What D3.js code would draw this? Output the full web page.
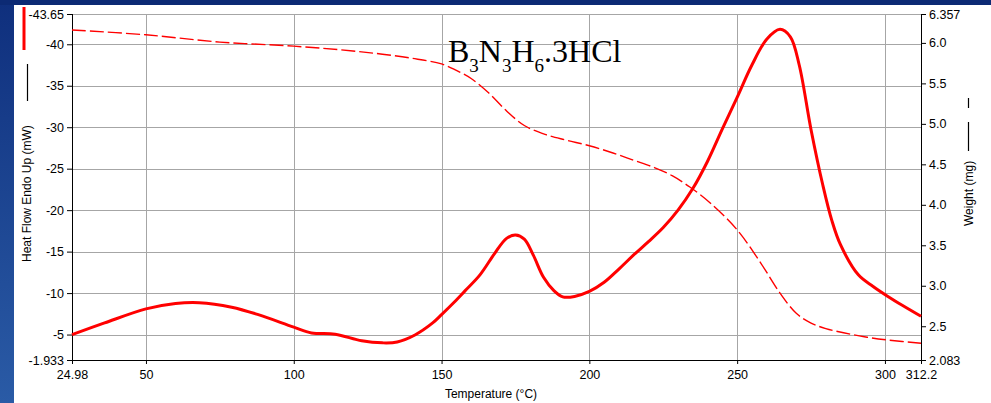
<!DOCTYPE html>
<html>
<head>
<meta charset="utf-8">
<script src="https://cdn.jsdelivr.net/npm/d3@7"></script>
<style>
  html, body { margin: 0; padding: 0; }
  body { width: 991px; height: 403px; overflow: hidden; }
  svg { display: block; font-family: 'Liberation Sans', Arial, sans-serif; }
</style>
</head>
<body>
<svg id="chart" width="991" height="403"></svg>
<script>
// heat flow (solid), mW, endo up
const heatTemps = [24.98, 36, 50, 60, 68, 79, 88, 100, 106, 114, 123, 130, 135, 141, 147, 150, 154, 158, 163, 168, 172, 175, 178, 181, 184.5, 188, 191, 195, 200, 205, 210, 215, 220, 225, 230, 235, 240, 245, 250, 255, 260, 264.5, 268, 271, 275, 279, 282, 285, 291, 296, 301, 306, 312.2]
const heatFlow = [-5.0, -6.4, -8.1, -8.75, -8.85, -8.3, -7.4, -5.9, -5.2, -5.05, -4.25, -4.0, -4.1, -4.95, -6.4, -7.4, -8.8, -10.3, -12.2, -14.8, -16.6, -17.0, -16.5, -14.6, -11.9, -10.3, -9.55, -9.6, -10.2, -11.3, -12.9, -14.6, -16.2, -17.9, -20.0, -22.6, -25.9, -29.8, -33.6, -37.5, -40.6, -41.8, -40.9, -37.5, -29.7, -23.0, -18.8, -15.8, -12.2, -10.8, -9.6, -8.5, -7.2]

// weight (dashed), mg
const weightTemps = [24.98, 50, 75, 100, 120, 130, 140, 150, 155, 160, 166, 172, 178, 185, 192, 200, 208, 215, 222, 228, 234, 241, 250, 258, 264.5, 270, 275, 280, 286, 293, 301, 312.2]
const weight = [6.16, 6.10, 6.01, 5.96, 5.90, 5.86, 5.81, 5.74, 5.66, 5.56, 5.38, 5.16, 4.98, 4.87, 4.80, 4.73, 4.64, 4.55, 4.46, 4.36, 4.22, 4.02, 3.69, 3.28, 2.91, 2.66, 2.54, 2.47, 2.42, 2.37, 2.33, 2.29]

const xTicks = [24.98, 50, 100, 150, 200, 250, 300, 312.2]
const heatTicks = [-1.933, -5, -10, -15, -20, -25, -30, -35, -40, -43.65]
const weightTicks = [2.083, 2.5, 3.0, 3.5, 4.0, 4.5, 5.0, 5.5, 6.0, 6.357]

const plot = { left: 72, right: 921, top: 14, bottom: 360 }

const svg = d3.select('#chart')

// blue frame
const defs = svg.append('defs')
const grad = defs.append('linearGradient')
    .attr('id', 'bg').attr('x1', 0).attr('y1', 0).attr('x2', 0).attr('y2', 1)
grad.append('stop').attr('offset', '0%').attr('stop-color', '#0f2f7d')
grad.append('stop').attr('offset', '100%').attr('stop-color', '#2a5ba6')

svg.append('rect').attr('width', 991).attr('height', 403).attr('fill', 'url(#bg)')
svg.append('rect').attr('x', 0).attr('y', 0).attr('width', 991).attr('height', 5).attr('fill', '#0c2a74')
svg.append('rect').attr('x', 14).attr('y', 5).attr('width', 977).attr('height', 398).attr('fill', '#fff')

const x = d3.scaleLinear().domain([24.98, 312.2]).range([plot.left, plot.right])
const yHeat = d3.scaleLinear().domain([-1.933, -43.65]).range([plot.bottom, plot.top])
const yWeight = d3.scaleLinear().domain([2.083, 6.357]).range([plot.bottom, plot.top])

// grid
const grid = svg.append('g').attr('stroke', '#a6a6a6').attr('stroke-width', 1)
grid.selectAll('.hg')
    .data(heatTicks.filter(d => d !== -1.933))
  .enter().append('line')
    .attr('x1', plot.left).attr('x2', plot.right)
    .attr('y1', d => Math.round(yHeat(d)) + 0.5)
    .attr('y2', d => Math.round(yHeat(d)) + 0.5)
grid.selectAll('.vg')
    .data(xTicks.filter(d => d !== 24.98 && d !== 312.2))
  .enter().append('line')
    .attr('y1', plot.top).attr('y2', plot.bottom)
    .attr('x1', d => Math.round(x(d)) + 0.5)
    .attr('x2', d => Math.round(x(d)) + 0.5)

// axes
const fmt = d => String(d)
const xAxis = d3.axisBottom(x).tickValues(xTicks).tickFormat(fmt).tickSize(4).tickPadding(6)
const yAxisL = d3.axisLeft(yHeat).tickValues(heatTicks).tickFormat(fmt).tickSize(5).tickPadding(3)
const yAxisR = d3.axisRight(yWeight).tickValues(weightTicks)
    .tickFormat(d => (d === 2.083 || d === 6.357) ? String(d) : d.toFixed(1)).tickSize(5).tickPadding(3)

function styleAxis (g) {
  g.select('.domain').remove()
  g.selectAll('line').attr('stroke', '#000')
  g.selectAll('text').attr('fill', '#000').style('font-size', '12.5px')
}

svg.append('g')
    .attr('transform', `translate(0,${plot.bottom})`)
    .call(xAxis).call(styleAxis)
svg.append('g')
    .attr('transform', `translate(${plot.left},0)`)
    .call(yAxisL).call(styleAxis)
svg.append('g')
    .attr('transform', `translate(${plot.right},0)`)
    .call(yAxisR).call(styleAxis)

// axis lines
const ax = svg.append('g').attr('stroke', '#000').attr('stroke-width', 1)
ax.append('line').attr('x1', plot.left).attr('x2', plot.right).attr('y1', plot.bottom + 0.5).attr('y2', plot.bottom + 0.5)
ax.append('line').attr('x1', plot.left + 0.5).attr('x2', plot.left + 0.5).attr('y1', plot.top).attr('y2', plot.bottom)
ax.append('line').attr('x1', plot.right + 0.5).attr('x2', plot.right + 0.5).attr('y1', plot.top).attr('y2', plot.bottom)

// curves
const heatLine = d3.line()
    .x((d, i) => x(heatTemps[i]))
    .y(d => yHeat(d))
    .curve(d3.curveCatmullRom.alpha(0.5))
svg.append('path')
    .datum(heatFlow)
    .attr('fill', 'none')
    .attr('stroke', '#ff0000')
    .attr('stroke-width', 3)
    .attr('d', heatLine)

const weightLine = d3.line()
    .x((d, i) => x(weightTemps[i]))
    .y(d => yWeight(d))
    .curve(d3.curveCatmullRom.alpha(0.5))
svg.append('path')
    .datum(weight)
    .attr('fill', 'none')
    .attr('stroke', '#ff0000')
    .attr('stroke-width', 1.4)
    .attr('stroke-dasharray', '14,4')
    .attr('d', weightLine)

// axis titles
svg.append('text')
    .attr('transform', 'translate(31,262) rotate(-90)')
    .style('font-size', '12px')
    .text('Heat Flow Endo Up (mW)')
svg.append('line')
    .attr('x1', 27.5).attr('x2', 27.5).attr('y1', 101).attr('y2', 64)
    .attr('stroke', '#000').attr('stroke-width', 1.2)
svg.append('line')
    .attr('x1', 24).attr('x2', 24).attr('y1', 7).attr('y2', 50)
    .attr('stroke', '#ff0000').attr('stroke-width', 3)

svg.append('text')
    .attr('transform', 'translate(973,226) rotate(-90)')
    .style('font-size', '12px')
    .text('Weight (mg)')
svg.append('line')
    .attr('x1', 968.5).attr('x2', 968.5).attr('y1', 151).attr('y2', 98)
    .attr('stroke', '#000').attr('stroke-width', 1.2)
    .attr('stroke-dasharray', '29,14')

svg.append('text')
    .attr('x', 491).attr('y', 398)
    .attr('text-anchor', 'middle')
    .style('font-size', '12px')
    .text('Temperature (°C)')

// compound label
const label = svg.append('text')
    .attr('x', 448).attr('y', 62)
    .style('font-family', "'Liberation Serif', 'Times New Roman', serif")
    .attr('fill', '#000')
const parts = [['B', 0], ['3', 1], ['N', 0], ['3', 1], ['H', 0], ['6', 1], ['.3HCl', 0]]
let prevSub = 0
parts.forEach(p => {
  label.append('tspan')
      .attr('dy', p[1] ? 10 : (prevSub ? -10 : 0))
      .style('font-size', p[1] ? '19px' : '32px')
      .text(p[0])
  prevSub = p[1]
})
</script>
</body>
</html>
